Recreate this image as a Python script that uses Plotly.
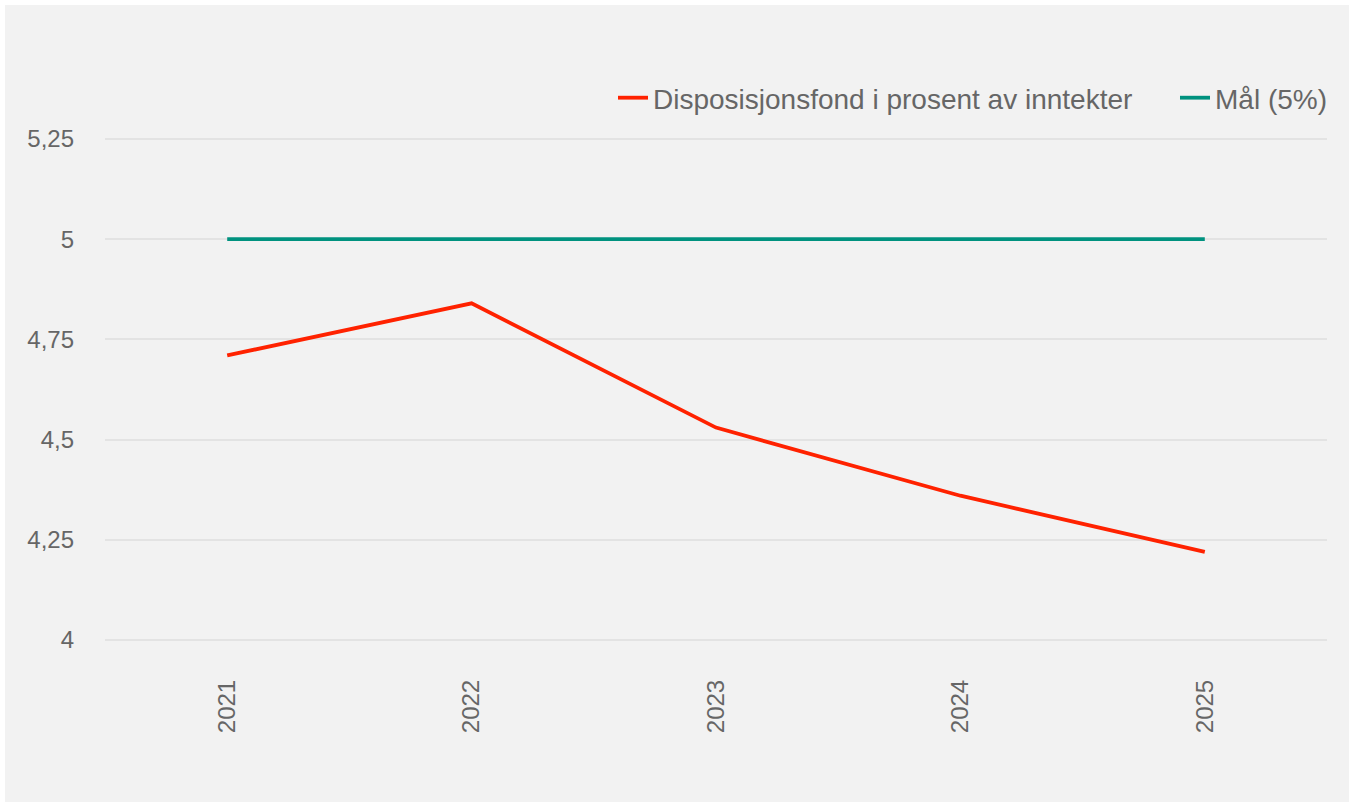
import plotly.graph_objects as go

years = ["2021", "2022", "2023", "2024", "2025"]
fond = [4.71, 4.84, 4.53, 4.36, 4.22]
maal = [5, 5, 5, 5, 5]
y_ticks = [4, 4.25, 4.5, 4.75, 5, 5.25]
y_ticklabels = ["4", "4,25", "4,5", "4,75", "5", "5,25"]

W, H = 1349, 802
L, R, T, B = 105, 22, 137, 160
pw = W - L - R
ph = H - T - B

fig = go.Figure()
fig.add_trace(go.Scatter(x=years, y=fond, mode="lines", name="Disposisjonsfond i prosent av inntekter",
                         line=dict(color="#ff2200", width=3.8), legend="legend"))
fig.add_trace(go.Scatter(x=years, y=maal, mode="lines", name="Mål (5%)",
                         line=dict(color="#00927f", width=3.8), legend="legend2"))

font_fam = "Liberation Sans, Arial, sans-serif"
leg_common = dict(orientation="h", yanchor="middle", y=1 + (T - 98) / ph,
                  font=dict(size=28, color="#666666", family=font_fam), bgcolor="rgba(0,0,0,0)")
fig.update_layout(
    width=W, height=H,
    margin=dict(l=L, r=R, t=T, b=B),
    paper_bgcolor="white",
    plot_bgcolor="rgba(0,0,0,0)",
    font=dict(family=font_fam, size=24, color="#666666"),
    showlegend=True,
    legend=dict(xanchor="right", x=(1138 - L) / pw, **leg_common),
    legend2=dict(xanchor="right", x=(1333 - L) / pw, **leg_common),
    xaxis=dict(type="category", range=[-0.5, 4.5], showgrid=False, zeroline=False, showline=False,
               tickangle=-90, ticks="", ticklabelstandoff=32,
               tickfont=dict(size=24, color="#666666")),
    yaxis=dict(range=[3.995, 5.255], tickvals=y_ticks, ticktext=y_ticklabels, showgrid=True,
               gridcolor="#e3e3e3", gridwidth=1.5, zeroline=False, showline=False, ticks="",
               ticklabelstandoff=30, tickfont=dict(size=24, color="#666666")),
    shapes=[dict(type="rect", xref="paper", yref="paper", layer="below",
                 x0=(5 - L) / pw, x1=(W + 10 - L) / pw,
                 y0=-(H + 10 - T - ph) / ph, y1=1 + (T - 5) / ph,
                 fillcolor="#f2f2f2", line=dict(width=0))],
)

fig.write_html("out.html", config={"displayModeBar": False},
               post_script="document.body.style.margin='0';")
